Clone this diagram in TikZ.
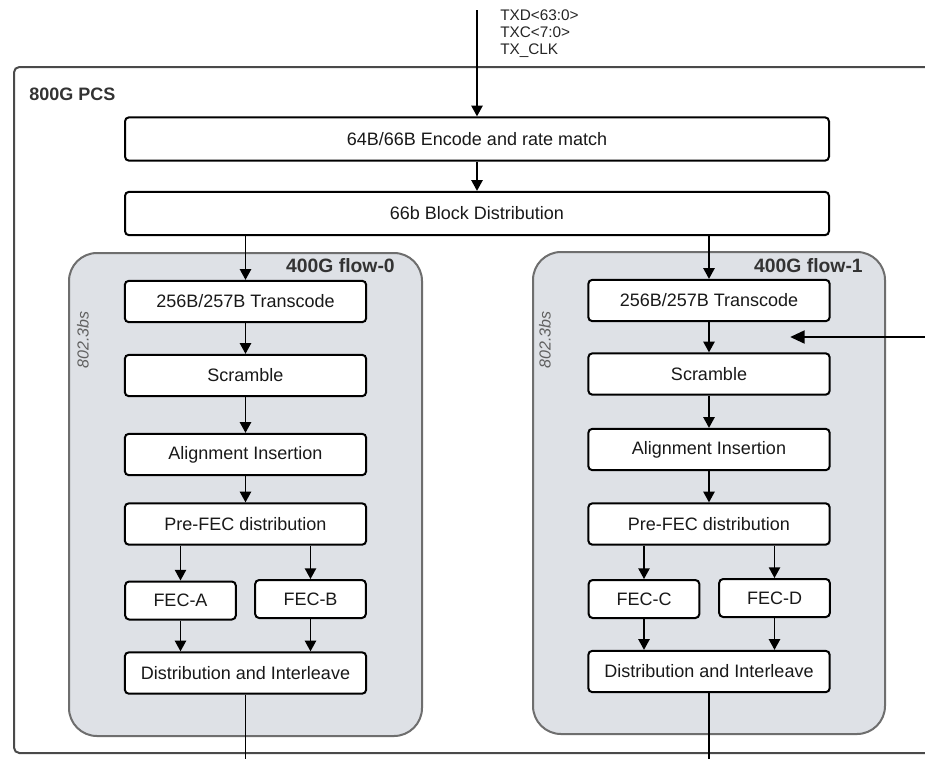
\documentclass[tikz,border=0pt]{standalone}
\usepackage{fontspec}
\setmainfont{Liberation Sans}
\usetikzlibrary{arrows.meta}
\definecolor{flowfill}{HTML}{DEE1E6}
\definecolor{flowline}{HTML}{6E6E6E}
\definecolor{outerline}{HTML}{4A4A4A}
\definecolor{labelgray}{HTML}{333333}
\definecolor{stdgray}{HTML}{606060}
\begin{document}
\begin{tikzpicture}[x=0.75pt,y=-0.75pt,
  blk/.style={draw=black, line width=1.5pt, rounded corners=3pt, fill=white, inner sep=0pt,
              font=\fontsize{13.5}{16}\selectfont, text=black!90},
  wide/.style={blk, minimum width=528pt, minimum height=32.5pt},
  colbox/.style={blk, minimum width=181pt, minimum height=31pt},
  fecbox/.style={blk, minimum width=83pt, minimum height=28.5pt},
  flowbox/.style={draw=flowline, fill=flowfill, line width=1.5pt, rounded corners=21pt, inner sep=0pt},
  arr/.style={line width=1pt, -{Triangle[length=8pt,width=8.5pt]}},
  ln/.style={line width=1pt},
  sig/.style={anchor=base west, inner sep=0pt, font=\fontsize{11.5}{13}\selectfont, text=black!85},
  flowlbl/.style={anchor=base east, inner sep=0pt, font=\fontsize{14.5}{17}\selectfont\bfseries, text=labelgray},
  stdlbl/.style={rotate=90, inner sep=0pt, font=\fontsize{12}{14}\selectfont\itshape, text=stdgray}]
\useasboundingbox (0,0) rectangle (925,758);
\fill[white] (0,0) rectangle (925,758);

% outer 800G PCS frame (open to the right)
\draw[outerline, line width=1.5pt, rounded corners=4pt] (926,67) -- (14,67) -- (14,753) -- (926,753);
\node[anchor=base west, inner sep=0pt, font=\fontsize{13.5}{16}\selectfont\bfseries, text=labelgray] (pcs) at (29,100.5) {800G PCS};

% input signals
\coordinate (in) at (477,10);
\node[sig] (s1) at (500,20.7) {TXD<63:0>};
\node[sig] (s2) at (500,37.7) {TXC<7:0>};
\node[sig] (s3) at (500,54.7) {TX\_CLK};

% flow containers
\node[flowbox, minimum width=264.75pt, minimum height=362.25pt] (flow0) at (245.5,494.5) {};
\node[flowbox, minimum width=264pt, minimum height=361.5pt] (flow1) at (709,493) {};
\node[flowlbl] (f0lbl) at (395,272) {400G flow-0};
\node[flowlbl] (f1lbl) at (863,272) {400G flow-1};
\node[stdlbl] (std0) at (83,340) {802.3bs};
\node[stdlbl] (std1) at (545,340) {802.3bs};

% top blocks
\node[wide] (enc) at (477,139) {64B/66B Encode and rate match};
\node[wide] (bd) at (477,213.5) {66b Block Distribution};

% flow-0
\node[colbox] (tc0) at (245.5,301.5) {256B/257B Transcode};
\node[colbox] (sc0) at (245.5,375.5) {Scramble};
\node[colbox] (al0) at (245.5,454.5) {Alignment Insertion};
\node[colbox] (pf0) at (245.5,524) {Pre-FEC distribution};
\node[fecbox] (fa) at (180.5,600.5) {FEC-A};
\node[fecbox] (fb) at (310.5,599) {FEC-B};
\node[colbox] (di0) at (245.5,673) {Distribution and Interleave};

% flow-1
\node[colbox] (tc1) at (709,300.5) {256B/257B Transcode};
\node[colbox] (sc1) at (709,374) {Scramble};
\node[colbox] (al1) at (709,449.5) {Alignment Insertion};
\node[colbox] (pf1) at (709,524) {Pre-FEC distribution};
\node[fecbox] (fc) at (644,599) {FEC-C};
\node[fecbox] (fd) at (774.5,598) {FEC-D};
\node[colbox] (di1) at (709,671.5) {Distribution and Interleave};

% connectors
\draw[arr] (in) -- (enc.north);
\draw[arr] (enc.south) -- (bd.north);
\draw[arr] (tc0.north |- bd.south) -- (tc0.north);
\draw[arr] (tc1.north |- bd.south) -- (tc1.north);

\draw[arr] (tc0.south) -- (sc0.north);
\draw[arr] (sc0.south) -- (al0.north);
\draw[arr] (al0.south) -- (pf0.north);
\draw[arr] (fa.north |- pf0.south) -- (fa.north);
\draw[arr] (fb.north |- pf0.south) -- (fb.north);
\draw[arr] (fa.south) -- (fa.south |- di0.north);
\draw[arr] (fb.south) -- (fb.south |- di0.north);

\draw[arr] (tc1.south) -- (sc1.north);
\draw[arr] (sc1.south) -- (al1.north);
\draw[arr] (al1.south) -- (pf1.north);
\draw[arr] (fc.north |- pf1.south) -- (fc.north);
\draw[arr] (fd.north |- pf1.south) -- (fd.north);
\draw[arr] (fc.south) -- (fc.south |- di1.north);
\draw[arr] (fd.south) -- (fd.south |- di1.north);

\coordinate (bot) at (0,760);
\draw[ln] (di0.south) -- (di0.south |- bot);
\draw[ln] (di1.south) -- (di1.south |- bot);

% external pointer arrow
\coordinate (ext) at (926,337);
\coordinate (exttip) at (790,337);
\draw[line width=2.2pt, -{Triangle[length=11pt,width=9.5pt]}] (ext) -- (exttip);
\end{tikzpicture}
\end{document}
